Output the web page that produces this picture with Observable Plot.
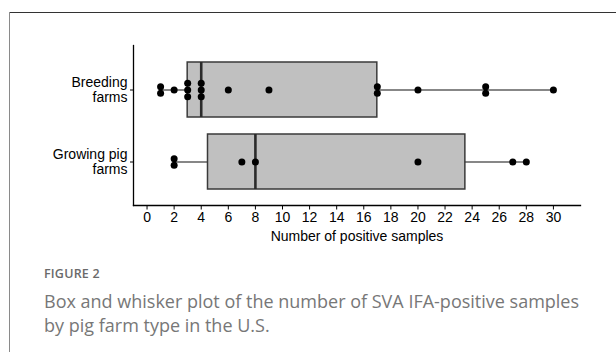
<!DOCTYPE html>
<html>
<head>
<meta charset="utf-8">
<script src="https://cdn.jsdelivr.net/npm/d3@7"></script>
<script src="https://cdn.jsdelivr.net/npm/@observablehq/plot@0.6"></script>
<style>
  html, body { margin: 0; padding: 0; background: #fff; }
  #fig { position: relative; width: 616px; height: 352px; overflow: hidden; background: #fff; }
  #topline { position: absolute; left: 9px; top: 12px; width: 607px; height: 1.3px; background: #333; }
  #leftline { position: absolute; left: 9px; top: 12px; width: 1px; height: 340px; background: #8a8a8a; }
  #chart { position: absolute; left: 0; top: 0; }
  #chart svg text { font-size: 14px; font-family: 'Liberation Sans', Arial, sans-serif; }
  #figlabel { position: absolute; left: 44px; top: 265px; font-family: "Open Sans", sans-serif; font-weight: 600; font-size: 12.5px; color: #6a6a6a; letter-spacing: 0.2px; }
  #caption { position: absolute; left: 44px; top: 289px; width: 570px; white-space: nowrap; font-family: "Open Sans", sans-serif; font-weight: 400; font-size: 18px; line-height: 24px; color: #777; }
</style>
</head>
<body>
<div id="fig">
  <div id="topline"></div>
  <div id="leftline"></div>
  <div id="chart"></div>
  <div id="figlabel">FIGURE 2</div>
  <div id="caption">Box and whisker plot of the number of SVA IFA-positive samples<br>by pig farm type in the U.S.</div>
</div>
<script>
// Data
const farmTypes = ["Breeding farms", "Growing pig farms"];
const farmLabels = ["Breeding\nfarms", "Growing pig\nfarms"];
const breedingValues = [1, 1, 2, 3, 3, 3, 4, 4, 4, 6, 9, 17, 17, 20, 25, 25, 30];
const growingValues = [2, 2, 7, 8, 20, 27, 28];
const xTicks = [0, 2, 4, 6, 8, 10, 12, 14, 16, 18, 20, 22, 24, 26, 28, 30];
const xLabel = "Number of positive samples";

const seriesValues = [breedingValues, growingValues];

// Box statistics (R type-7 quantiles)
const stats = farmTypes.map((farm, i) => {
  const v = seriesValues[i].slice().sort(d3.ascending);
  return {
    farm,
    min: d3.min(v),
    q1: d3.quantile(v, 0.25),
    median: d3.quantile(v, 0.5),
    q3: d3.quantile(v, 0.75),
    max: d3.max(v)
  };
});

// Points stacked vertically where values repeat
const dotR = 3.5;
const spacing = 6.7;
const points = [];
farmTypes.forEach((farm, i) => {
  const groups = d3.group(seriesValues[i], d => d);
  for (const [value, arr] of groups) {
    const k = arr.length;
    arr.forEach((_, j) => points.push({farm, value, off: (j - (k - 1) / 2) * spacing}));
  }
});
const offsets = Array.from(new Set(points.map(p => p.off)));

const font = "'Liberation Sans', Arial, sans-serif";

const plot = Plot.plot({
  width: 616,
  height: 250,
  marginLeft: 133,
  marginRight: 36,
  marginTop: 45,
  marginBottom: 45,
  style: { fontFamily: font, fontSize: "14px", color: "#000", background: "transparent" },
  x: { domain: [-1, 32] },
  y: { type: "band", domain: farmTypes, paddingInner: 0.24, paddingOuter: 0.225 },
  marks: [
    Plot.axisX({ticks: xTicks, tickSize: 4.5, tickPadding: 2, label: xLabel, labelAnchor: "center", labelArrow: "none", labelOffset: 35, stroke: "#000", fill: "#000"}),
    Plot.axisY({tickSize: 3, tickPadding: 3, label: null, tickFormat: d => farmLabels[farmTypes.indexOf(d)], fill: "#000", stroke: "#000", lineHeight: 1.05}),
    Plot.ruleY(stats, {y: "farm", x1: "min", x2: "max", stroke: "#111", strokeWidth: 1.2}),
    Plot.barX(stats, {y: "farm", x1: "q1", x2: "q3", fill: "#c0c0c0", stroke: "#3a3a3a", strokeWidth: 1.5}),
    Plot.tickX(stats, {y: "farm", x: "median", stroke: "#2b2b2b", strokeWidth: 2.6}),
    ...offsets.map(o => Plot.dot(points.filter(p => p.off === o), {x: "value", y: "farm", r: dotR, fill: "#000", stroke: "none", dy: o})),
    Plot.frame({anchor: "left", stroke: "#000", strokeWidth: 1.3}),
    Plot.frame({anchor: "bottom", stroke: "#000", strokeWidth: 1.3})
  ]
});
document.getElementById("chart").appendChild(plot);
</script>
</body>
</html>
